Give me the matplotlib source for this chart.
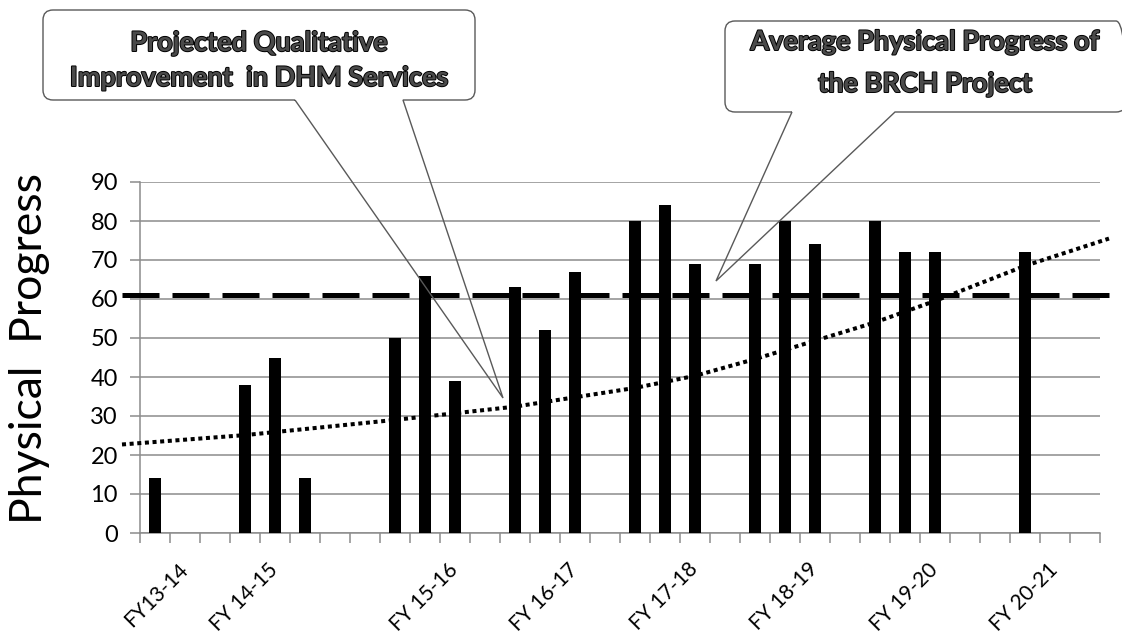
import matplotlib

matplotlib.use("Agg")
import matplotlib.pyplot as plt
import matplotlib.patheffects as pe
import numpy as np
from matplotlib.patches import PathPatch
from matplotlib.path import Path

# ---- data ----
n_slots = 32
bar_slots = [0, 3, 4, 5, 8, 9, 10, 12, 13, 14, 16, 17, 18, 20, 21, 22, 24, 25, 26, 29]
bar_values = [14, 38, 45, 14, 50, 66, 39, 63, 52, 67, 80, 84, 69, 69, 80, 74, 80, 72, 72, 72]

label_slots = [1, 4, 10, 14, 18, 22, 26, 30]
labels = ["FY13-14", "FY 14-15", "FY 15-16", "FY 16-17",
          "FY 17-18", "FY 18-19", "FY 19-20", "FY 20-21"]

# projected improvement trend (dotted), read at slot positions
trend_x = [-1.1, 3, 8, 12, 16, 18, 20, 22, 24, 26, 29, 31.8]
trend_y = [22.7, 25.1, 29.0, 32.4, 37.2, 40.3, 44.6, 49.3, 54.0, 59.5, 68.5, 75.5]

# average physical progress (dashed)
avg_x = [-1.1, 31.8]
avg_value = 61

W, H = 1122, 640
plt.rcParams["font.family"] = ["Lato", "DejaVu Sans"]

fig = plt.figure(figsize=(W / 100, H / 100), dpi=100)
ax = fig.add_axes([140 / W, 1 - 533 / H, 960 / W, 351 / H])

grid_c = "#8c8c8c"
ax.bar(bar_slots, bar_values, width=0.4, color="black", zorder=3)
ax.plot(trend_x, trend_y, color="black", lw=2.9, ls=(0, (1, 0.9)),
        dash_capstyle="butt", clip_on=False, zorder=4)
ax.plot(avg_x, [avg_value] * 2, color="black", lw=3.6, ls=(0, (7.4, 2.6)),
        dash_capstyle="butt", clip_on=False, zorder=4)

ax.set_xlim(-0.5, n_slots - 0.5)
ax.set_ylim(0, 90)
ax.set_yticks(np.arange(0, 91, 10))
ax.yaxis.grid(True, color=grid_c, lw=1.1, zorder=0)
ax.set_axisbelow(True)
for s in ("top", "right"):
    ax.spines[s].set_visible(False)
for s in ("left", "bottom"):
    ax.spines[s].set_color(grid_c)
    ax.spines[s].set_linewidth(1.1)

ax.tick_params(axis="y", length=7, width=1.1, color=grid_c, labelsize=17, pad=9)
ax.set_xticks(np.arange(-0.5, n_slots, 1))
ax.set_xticklabels([])
ax.tick_params(axis="x", length=7, width=1.1, color=grid_c)

# category labels, rotated, right end under each labelled slot
for s, lab in zip(label_slots, labels):
    ax.annotate(lab, xy=(s, 0), xycoords=("data", "axes fraction"),
                xytext=(0, -24), textcoords="offset points", rotation=45,
                ha="right", va="center", rotation_mode="anchor", fontsize=15,
                annotation_clip=False)

fig.text(30 / W, 1 - 348 / H, "Physical  Progress", rotation=90,
         ha="center", va="center", fontsize=32)


def fx(p):
    return (p[0] / W, 1 - p[1] / H)


def callout(x0, y0, x1, y1, w0, w1, tip, r=10):
    M, L, C = Path.MOVETO, Path.LINETO, Path.CURVE3
    verts = [(w0, y1), tip, (w1, y1), (x1 - r, y1), (x1, y1), (x1, y1 - r),
             (x1, y0 + r), (x1, y0), (x1 - r, y0), (x0 + r, y0), (x0, y0),
             (x0, y0 + r), (x0, y1 - r), (x0, y1), (x0 + r, y1), (w0, y1)]
    codes = [M, L, L, L, C, C, L, C, C, L, C, C, L, C, C, L]
    path = Path([fx(v) for v in verts], codes)
    fig.patches.append(PathPatch(path, transform=fig.transFigure, fc="none",
                                 ec="#595959", lw=1.0, zorder=5))


callout(43, 10, 475, 100, 295, 403, (503, 398))
callout(725, 21, 1126, 112, 792, 895, (716, 281))

fx_style = [pe.Stroke(linewidth=1.4, foreground="black"), pe.Normal()]
for x, y, txt in [(259, 51, "Projected Qualitative"),
                  (259, 86, "Improvement  in DHM Services"),
                  (925, 50, "Average Physical Progress of"),
                  (925, 92, "the BRCH Project")]:
    fig.text(*fx((x, y)), txt, ha="center", va="baseline", fontsize=19.5,
             fontweight="bold", color="#4a4a4a", path_effects=fx_style)

fig.savefig("out.png", dpi=100)
